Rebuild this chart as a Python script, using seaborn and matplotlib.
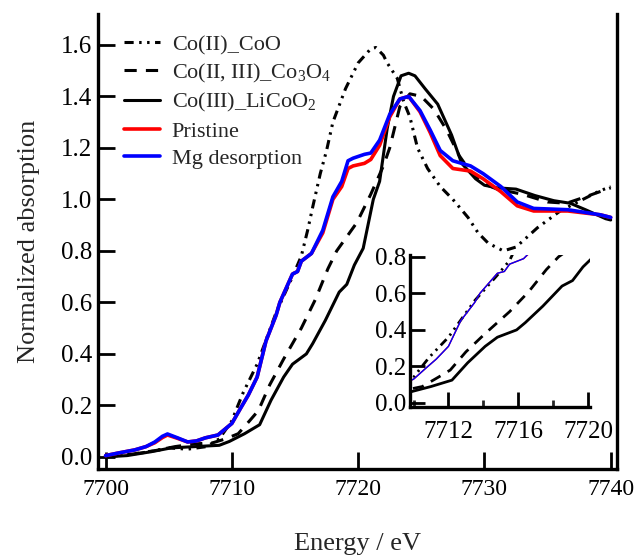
import matplotlib
matplotlib.use('Agg')
import matplotlib.pyplot as plt
import seaborn as sns

# Co(II)_CoO reference
coo_e = [7700.0, 7702.0, 7703.5, 7705.0, 7706.5, 7708.0, 7709.0, 7710.0, 7710.4, 7710.9,
         7712.0, 7713.5, 7714.8, 7715.5, 7716.0, 7716.4, 7717.0, 7717.5, 7718.0, 7719.0,
         7720.0, 7721.0, 7721.4, 7722.0, 7722.3, 7723.1, 7723.6, 7724.1, 7724.7, 7725.5,
         7726.5, 7727.5, 7728.7, 7729.5, 7730.3, 7731.5, 7732.5, 7733.3, 7734.2, 7736.0,
         7737.6, 7739.0, 7740.0]
coo_y = [0.00, 0.01, 0.02, 0.035, 0.03, 0.04, 0.07, 0.14, 0.19, 0.25,
         0.36, 0.56, 0.70, 0.78, 0.88, 0.97, 1.10, 1.19, 1.30, 1.43,
         1.53, 1.585, 1.59, 1.56, 1.53, 1.47, 1.38, 1.32, 1.20, 1.12,
         1.05, 1.00, 0.93, 0.87, 0.83, 0.80, 0.815, 0.85, 0.89, 0.955,
         0.995, 1.03, 1.05]

# Co(II, III)_Co3O4 reference
co3o4_e = [7700.0, 7702.0, 7704.0, 7705.5, 7707.0, 7708.5, 7709.5, 7710.5, 7711.4, 7712.1,
           7713.0, 7714.1, 7715.5, 7716.6, 7717.6, 7718.3, 7719.9, 7721.0, 7722.0, 7722.5,
           7723.3, 7724.1, 7725.0, 7726.0, 7727.0, 7728.0, 7729.0, 7730.0, 7731.0, 7733.0,
           7735.0, 7736.5, 7738.0, 7740.0]
co3o4_y = [0.00, 0.01, 0.025, 0.04, 0.05, 0.055, 0.07, 0.09, 0.14, 0.18,
           0.28, 0.38, 0.50, 0.61, 0.73, 0.80, 0.91, 1.02, 1.13, 1.20,
           1.36, 1.41, 1.40, 1.35, 1.27, 1.17, 1.10, 1.06, 1.04, 1.02,
           0.99, 0.985, 1.01, 1.045]

# Co(III)_LiCoO2 reference
licoo2_e = [7700.0, 7701.7, 7703.6, 7705.2, 7707.1, 7709.0, 7709.8, 7711.0, 7712.2, 7713.1,
            7714.1, 7714.8, 7715.9, 7716.4, 7717.4, 7718.5, 7719.1, 7719.7, 7720.4, 7721.2,
            7721.7, 7722.3, 7722.8, 7723.4, 7724.0, 7724.5, 7725.3, 7726.3, 7727.4, 7728.2,
            7729.3, 7730.0, 7731.0, 7732.5, 7734.0, 7735.5, 7736.8, 7738.0, 7739.6, 7740.0]
licoo2_y = [0.00, 0.005, 0.02, 0.035, 0.04, 0.045, 0.06, 0.09, 0.125, 0.22,
            0.31, 0.36, 0.40, 0.44, 0.53, 0.64, 0.67, 0.745, 0.81, 1.00,
            1.07, 1.275, 1.40, 1.48, 1.49, 1.48, 1.43, 1.37, 1.25, 1.14,
            1.08, 1.055, 1.045, 1.04, 1.015, 0.995, 0.985, 0.96, 0.925, 0.92]

# Pristine / Mg desorption samples
sample_e = [7700.0, 7701.0, 7702.3, 7703.2, 7703.9, 7704.5, 7704.9, 7705.7, 7706.5, 7707.2,
            7707.9, 7708.9, 7710.0, 7710.7, 7711.3, 7712.0, 7712.7, 7713.5, 7713.8, 7714.8,
            7715.2, 7715.5, 7716.3, 7717.2, 7718.0, 7718.7, 7719.2, 7719.6, 7720.5, 7721.0,
            7721.7, 7722.5, 7723.3, 7724.0, 7724.9, 7725.7, 7726.5, 7727.5, 7728.9, 7729.9,
            7731.3, 7732.6, 7733.9, 7736.6, 7739.2, 7740.0]
mg_y = [0.005, 0.015, 0.027, 0.04, 0.058, 0.08, 0.089, 0.074, 0.058, 0.062,
        0.074, 0.085, 0.13, 0.19, 0.24, 0.31, 0.45, 0.55, 0.60, 0.71,
        0.72, 0.76, 0.79, 0.88, 1.01, 1.07, 1.15, 1.16, 1.175, 1.18,
        1.23, 1.33, 1.39, 1.40, 1.345, 1.27, 1.19, 1.15, 1.13, 1.10,
        1.05, 0.99, 0.965, 0.96, 0.94, 0.93]
pristine_y = [0.005, 0.015, 0.027, 0.04, 0.055, 0.075, 0.085, 0.072, 0.058, 0.062,
              0.074, 0.085, 0.13, 0.19, 0.24, 0.31, 0.45, 0.55, 0.60, 0.71,
              0.72, 0.76, 0.79, 0.87, 1.00, 1.05, 1.12, 1.13, 1.14, 1.155,
              1.21, 1.32, 1.39, 1.40, 1.34, 1.26, 1.17, 1.12, 1.11, 1.08,
              1.03, 0.975, 0.955, 0.955, 0.94, 0.93]

labels = ['Co(II)_CoO', 'Co(II, III)_Co$_3$O$_4$', 'Co(III)_LiCoO$_2$', 'Pristine', 'Mg desorption']

sns.set_theme(style='ticks')
plt.rcParams['font.family'] = ['Liberation Serif', 'DejaVu Serif']
plt.rcParams['mathtext.fontset'] = 'custom'
plt.rcParams['mathtext.rm'] = 'Liberation Serif'
plt.rcParams['mathtext.it'] = 'Liberation Serif:italic'

series = [
    (coo_e, coo_y, 'black', (0, (3, 1.8, 0.8, 1.8, 0.8, 1.8)), 2.2, 2.0),
    (co3o4_e, co3o4_y, 'black', (0, (4, 3)), 2.2, 2.0),
    (licoo2_e, licoo2_y, 'black', '-', 2.2, 2.0),
    (sample_e, pristine_y, '#ff0000', '-', 2.6, 1.0),
    (sample_e, mg_y, '#0000ff', '-', 2.6, 1.0),
]

fig = plt.figure(figsize=(6.34, 5.58), dpi=100)
ax = fig.add_axes([0.1546, 0.1595, 0.8186, 0.8154])
ins = fig.add_axes([0.6467, 0.2706, 0.2839, 0.2724])
ins.set_facecolor('none')

for (e, y, c, ls, lw, lw_in), lab in zip(series, labels):
    sns.lineplot(x=e, y=y, ax=ax, color=c, lw=lw, label=lab)
    ax.lines[-1].set_linestyle(ls)
    sns.lineplot(x=e, y=y, ax=ins, color=c, lw=lw_in)
    ins.lines[-1].set_linestyle(ls)

ax.set_xlim(7699.4, 7740.5)
ax.set_ylim(-0.047, 1.72)
ax.set_xticks([7700, 7710, 7720, 7730, 7740])
ax.set_yticks([0.0, 0.2, 0.4, 0.6, 0.8, 1.0, 1.2, 1.4, 1.6])
ax.set_yticklabels(['0.0', '0.2', '0.4', '0.6', '0.8', '1.0', '1.2', '1.4', '1.6'])
ax.set_xlabel('Energy / eV', fontsize=19, labelpad=24)
ax.set_ylabel('Normalized absorption', fontsize=19, labelpad=15)
ax.tick_params(direction='in', length=12, width=2.0, labelsize=18, colors='black')
ax.tick_params(axis='x', pad=7, labelsize=17)
ax.tick_params(axis='y', pad=4)
ax.spines['top'].set_visible(False)
for s in ['left', 'right', 'bottom']:
    ax.spines[s].set_linewidth(2.4)
    ax.spines[s].set_color('black')

ax.legend(loc='upper left', bbox_to_anchor=(0.05, 0.955), frameon=False, fontsize=16,
          handlelength=1.6, handletextpad=0.55, labelspacing=0.3, borderaxespad=0, borderpad=0)

ins.set_xlim(7709.8, 7720.1)
ins.set_ylim(-0.022, 0.81)
ins.set_xticks([7712, 7716, 7720])
ins.set_xticks([7710, 7714, 7718], minor=True)
ins.set_yticks([0.0, 0.2, 0.4, 0.6, 0.8])
ins.set_yticklabels(['0.0', '0.2', '0.4', '0.6', '0.8'])
ins.tick_params(direction='in', length=11, width=2.0, labelsize=18, colors='black')
ins.tick_params(axis='x', which='minor', direction='in', length=5, width=2.0)
ins.tick_params(axis='x', pad=10)
ins.tick_params(axis='y', pad=3)
ins.spines['top'].set_visible(False)
ins.spines['right'].set_visible(False)
for s in ['left', 'bottom']:
    ins.spines[s].set_linewidth(2.4)
    ins.spines[s].set_color('black')
ins.set_xlabel('')
ins.set_ylabel('')

fig.savefig('out.png', dpi=100)
